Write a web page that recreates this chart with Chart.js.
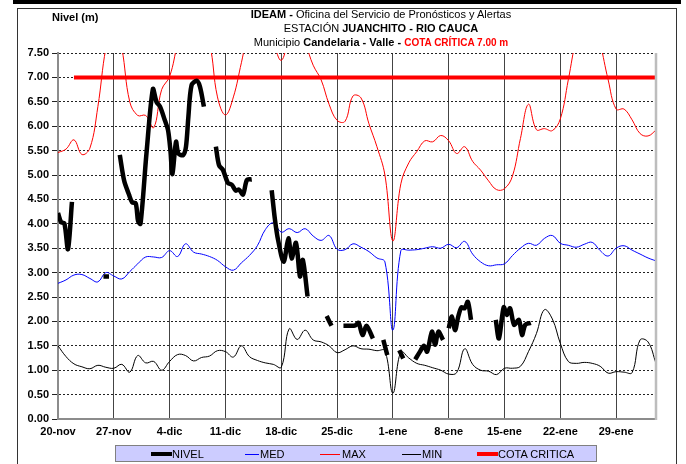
<!DOCTYPE html>
<html>
<head>
<meta charset="utf-8">
<script src="https://cdn.jsdelivr.net/npm/chart.js@4.4.0/dist/chart.umd.min.js"></script>
<style>
body { margin: 0; background: #fff; font-family: "Liberation Sans", Arial, sans-serif; }
#wrap { position: relative; width: 686px; height: 464px; overflow: hidden; }
#grafico { position: absolute; left: 0; top: 0; }
.barra { position: absolute; left: 13px; top: 0; width: 668px; height: 4px; background: #000; }
.marco { position: absolute; left: 17px; top: 8px; width: 658px; height: 480px; border: 1px solid #333; }
.titulo { position: absolute; left: 181px; width: 400px; text-align: center; font-size: 11px; line-height: 14px; color: #000; white-space: nowrap; }
.titulo b { font-weight: bold; }
.rojo { color: #ff0000; font-weight: bold; font-size: 10px; }
.eje { position: absolute; left: 52px; top: 11px; font-size: 11px; font-weight: bold; }
.leyenda { position: absolute; left: 115px; top: 445px; width: 480px; height: 15px; background: #ccccff; border: 1px solid #808080; }
.item { position: absolute; top: 447px; font-size: 11px; line-height: 14px; }
.muestra { position: absolute; height: 0; }
</style>
</head>
<body>
<div id="wrap">
  <canvas id="grafico" width="686" height="464"></canvas>
  <div class="barra"></div>
  <div class="marco"></div>
  <div class="eje">Nivel (m)</div>
  <div class="titulo" style="top:7px"><b>IDEAM -</b> Oficina del Servicio de Pronósticos y Alertas</div>
  <div class="titulo" style="top:21px">ESTACIÓN <b>JUANCHITO - RIO CAUCA</b></div>
  <div class="titulo" style="top:35px">Municipio <b>Candelaria - Valle -</b> <span class="rojo">COTA CRÍTICA 7.00 m</span></div>

  <div class="leyenda"></div>
  <div class="muestra" style="left:151px;top:452px;width:21px;border-top:4px solid #000"></div>
  <div class="item" style="left:172px">NIVEL</div>
  <div class="muestra" style="left:245px;top:454px;width:14px;border-top:1px solid #0000ff"></div>
  <div class="item" style="left:260px">MED</div>
  <div class="muestra" style="left:320px;top:454px;width:20px;border-top:1px solid #ff0000"></div>
  <div class="item" style="left:342px">MAX</div>
  <div class="muestra" style="left:402px;top:454px;width:19px;border-top:1px solid #000"></div>
  <div class="item" style="left:422px">MIN</div>
  <div class="muestra" style="left:477px;top:452px;width:21px;border-top:4px solid #ff0000"></div>
  <div class="item" style="left:498px">COTA CRITICA</div>
</div>
<script>
// etiquetas del eje x (una cada 7 dias, dia 0 = 20-nov)
const fechas = ['20-nov', '27-nov', '4-dic', '11-dic', '18-dic', '25-dic', '1-ene', '8-ene', '15-ene', '22-ene', '29-ene'];
const ultimoDia = 75;

// valores diarios historicos
const med = [2.78, 2.85, 2.95, 2.96, 2.88, 2.81, 3.00, 2.93, 2.87, 3.02,
    3.18, 3.32, 3.32, 3.31, 3.45, 3.33, 3.59, 3.42, 3.38, 3.33,
    3.25, 3.12, 3.05, 3.20, 3.35, 3.55, 3.88, 4.02, 3.83, 3.90,
    3.82, 3.90, 3.75, 3.66, 3.76, 3.48, 3.47, 3.59, 3.52, 3.43,
    3.30, 3.22, 1.82, 3.45, 3.46, 3.47, 3.50, 3.53, 3.50, 3.58,
    3.51, 3.64, 3.38, 3.22, 3.14, 3.16, 3.18, 3.35, 3.50, 3.60,
    3.56, 3.70, 3.76, 3.60, 3.56, 3.52, 3.58, 3.62, 3.45, 3.34,
    3.50, 3.55, 3.46, 3.38, 3.30, 3.24];

const max = [5.46, 5.53, 5.72, 5.42, 5.55, 6.40, 7.60, 8.20, 7.60, 6.50,
    6.22, 6.22, 5.97, 6.75, 7.02, 7.70, 8.30, 8.40, 8.00, 7.70,
    6.60, 6.23, 6.60, 7.30, 8.00, 8.20, 8.00, 7.70, 7.35, 7.80,
    8.00, 7.70, 7.25, 6.95, 6.45, 6.12, 6.10, 6.62, 6.58, 6.05,
    5.58, 5.00, 3.65, 4.82, 5.25, 5.48, 5.70, 5.68, 5.81, 5.70,
    5.44, 5.58, 5.28, 5.10, 4.88, 4.70, 4.72, 4.98, 5.75, 6.45,
    5.93, 5.95, 5.91, 6.15, 6.95, 7.80, 8.30, 8.30, 7.70, 6.95,
    6.35, 6.35, 6.13, 5.85, 5.80, 5.92];

const min = [1.50, 1.28, 1.13, 1.07, 1.03, 1.10, 1.06, 1.04, 1.12, 0.96,
    1.30, 1.15, 1.18, 1.00, 1.18, 1.32, 1.30, 1.19, 1.26, 1.29,
    1.40, 1.38, 1.27, 1.50, 1.28, 1.20, 1.15, 1.12, 1.06, 1.85,
    1.63, 1.82, 1.62, 1.58, 1.50, 1.36, 1.42, 1.50, 1.44, 1.43,
    1.40, 1.40, 0.53, 1.38, 1.25, 1.14, 1.10, 1.05, 1.00, 0.92,
    0.95, 1.44, 1.12, 1.00, 0.98, 0.91, 1.04, 1.04, 1.08, 1.38,
    1.75, 2.24, 2.05, 1.55, 1.18, 1.14, 1.16, 1.14, 1.08, 0.94,
    0.97, 0.96, 0.95, 1.62, 1.58, 1.14];

const cotaCritica = 7.0;
const cotaDesde = 2;

// lecturas de nivel (dia con fraccion), null = sin dato
const nivelDia = [0, 0.4, 0.8, 1.25, 1.75, 3,
    5.7, 6.4, 7,
    7.75, 8.3, 8.9, 9.3, 9.75, 10.05, 10.35, 11.1, 11.9, 12.35, 12.8, 13.4, 13.8, 14.1, 14.35, 14.8, 15.1, 15.7, 16.05, 16.35, 16.75, 17.4, 17.8, 18.3, 19,
    19.8, 20.2, 20.7, 21.3, 21.8, 22.3, 22.7, 23.2, 23.7, 24.3, 25,
    26.8, 27.2, 27.6, 28.3, 28.9, 29.3, 29.85, 30.35, 30.7, 31.3, 32,
    33.7, 34.3, 35,
    35.8, 36.6, 37.3, 37.7, 38.2, 38.7, 39.5, 40,
    40.8, 41.3, 42,
    42.8, 43.3, 44,
    44.8, 45.4, 45.9, 46.3, 46.9, 47.3, 47.7, 48.3, 48.6,
    49.0, 49.4, 49.8, 50.2, 50.6, 51.0, 51.4, 51.8, 53,
    54.9, 55.3, 55.9, 56.3, 56.7, 57.2, 57.8, 58.2, 58.6, 59.3];
const nivelValor = [4.22, 4.03, 4.01, 3.48, 4.45, null,
    2.92, 2.92, null,
    5.41, 4.88, 4.60, 4.44, 4.42, 4.05, 4.00, 5.45, 6.76, 6.50, 6.40, 6.12, 5.92, 5.50, 5.02, 5.68, 5.44, 5.41, 5.58, 6.19, 6.84, 6.93, 6.81, 6.40, null,
    5.58, 5.20, 5.10, 4.84, 4.80, 4.68, 4.70, 4.60, 4.90, 4.91, null,
    4.69, 4.10, 3.67, 3.22, 3.70, 3.29, 3.61, 2.92, 3.26, 2.51, null,
    2.11, 1.91, null,
    1.91, 1.91, 1.92, 1.97, 1.72, 1.91, 1.65, null,
    1.62, 1.31, null,
    1.41, 1.24, null,
    1.22, 1.38, 1.50, 1.38, 1.79, 1.52, 1.79, 1.62, null,
    1.86, 2.10, 1.82, 2.10, 2.29, 2.27, 2.40, 2.03, null,
    2.03, 1.65, 2.29, 2.13, 2.27, 1.93, 2.03, 1.72, 1.93, 1.97];

const diario = arr => arr.map((v, i) => ({ x: i, y: v }));
const nivel = nivelDia.map((d, i) => ({ x: d, y: nivelValor[i] }));
const cota = max.map((v, i) => ({ x: i, y: i >= cotaDesde ? cotaCritica : null }));

const fuente = { family: '"Liberation Sans", Arial, sans-serif', size: 11, weight: 'bold' };

// borde gris del lado derecho del area de trazado
const bordeDerecho = {
    id: 'bordeDerecho',
    afterDatasetsDraw(chart) {
        const a = chart.chartArea, c = chart.ctx;
        c.save();
        c.strokeStyle = '#bdbdbd';
        c.lineWidth = 2.5;
        c.beginPath();
        c.moveTo(a.right, a.top);
        c.lineTo(a.right, a.bottom + 1);
        c.stroke();
        c.restore();
    }
};

new Chart(document.getElementById('grafico').getContext('2d'), {
    type: 'line',
    data: {
        datasets: [
            { label: 'NIVEL', data: nivel, borderColor: '#000', borderWidth: 4.5, tension: 0.3, spanGaps: false },
            { label: 'MED', data: diario(med), borderColor: '#0000ff', borderWidth: 1, tension: 0.4 },
            { label: 'MAX', data: diario(max), borderColor: '#ff0000', borderWidth: 1, tension: 0.4 },
            { label: 'MIN', data: diario(min), borderColor: '#000', borderWidth: 1, tension: 0.4 },
            { label: 'COTA CRITICA', data: cota, borderColor: '#ff0000', borderWidth: 4, tension: 0 }
        ]
    },
    options: {
        responsive: false,
        animation: false,
        parsing: true,
        elements: { point: { radius: 0 }, line: { borderCapStyle: 'butt' } },
        layout: { padding: { left: 0, right: 30, top: 53, bottom: 0 } },
        plugins: { legend: { display: false }, tooltip: { enabled: false } },
        scales: {
            x: {
                type: 'linear',
                min: 0,
                max: ultimoDia,
                afterFit(s) { s.height = 45; },
                ticks: {
                    stepSize: 7,
                    includeBounds: false,
                    autoSkip: false,
                    maxRotation: 0,
                    padding: 6,
                    color: '#000',
                    font: fuente,
                    callback: v => fechas[v / 7]
                },
                grid: {
                    color: ctx => (ctx.tick && ctx.tick.value === 0) ? 'rgba(0,0,0,0)' : '#444',
                    lineWidth: 1,
                    drawTicks: false
                },
                border: { color: '#8c8c8c', width: 2 }
            },
            y: {
                min: 0,
                max: 7.5,
                afterFit(s) { s.width = 58; },
                ticks: {
                    stepSize: 0.5,
                    padding: 3,
                    color: '#000',
                    font: fuente,
                    callback: v => v.toFixed(2)
                },
                grid: { color: '#222', lineWidth: 1, tickLength: 6 },
                border: { color: '#8c8c8c', width: 2, dash: [2, 2] }
            }
        }
    },
    plugins: [bordeDerecho]
});
</script>
</body>
</html>
